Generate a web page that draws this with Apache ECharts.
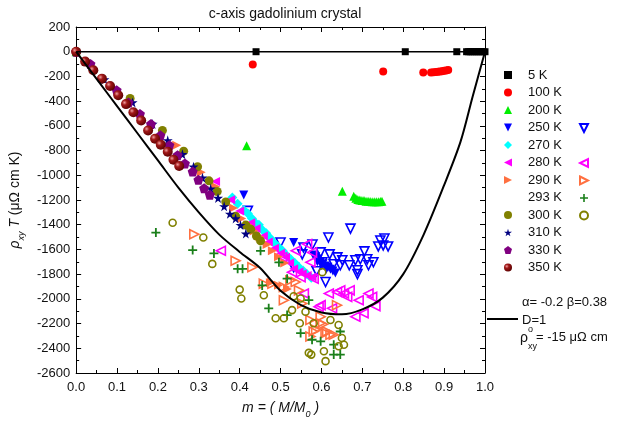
<!DOCTYPE html>
<html>
<head>
<meta charset="utf-8">
<script src="https://cdn.jsdelivr.net/npm/echarts@6/dist/echarts.min.js"></script>
<style>
  html, body { margin: 0; padding: 0; background: #fff; }
  #chart { width: 617px; height: 424px; }
</style>
</head>
<body>
<div id="chart"></div>
<script>
// ---- data: [m, rho_xy*T] ----
const xTicks = ['0.0', '0.1', '0.2', '0.3', '0.4', '0.5', '0.6', '0.7', '0.8', '0.9', '1.0']
const yTicks = [200, 0, -200, -400, -600, -800, -1000, -1200, -1400, -1600, -1800, -2000, -2200, -2400, -2600]

const k5 = [[0.44, 0], [0.805, 0], [0.931, 0], [0.955, 0], [0.96, 0], [0.965, 0], [0.97, 0], [0.975, 0], [0.98, 0], [0.985, 0], [0.99, 0], [0.995, 0], [1.0, 0]]
const k100 = [[0.432, -104], [0.751, -160], [0.849, -168], [0.868, -168], [0.874, -167], [0.88, -165], [0.885, -163], [0.89, -161], [0.895, -158], [0.9, -155], [0.905, -152], [0.91, -148]]
const k200 = [[0, 0], [0.417, -760], [0.651, -1130], [0.679, -1170], [0.684, -1185], [0.689, -1195], [0.694, -1200], [0.699, -1205], [0.704, -1205], [0.709, -1210], [0.714, -1210], [0.719, -1212], [0.724, -1215], [0.729, -1215], [0.734, -1215], [0.739, -1215], [0.744, -1212], [0.748, -1210]]
const k250 = [[0.41, -1160], [0.532, -1544], [0.58, -1645], [0.586, -1660], [0.592, -1680], [0.598, -1700], [0.604, -1715], [0.61, -1735], [0.616, -1745], [0.622, -1760], [0.628, -1775], [0.634, -1790], [0.6, -1730], [0.612, -1760], [0.59, -1700]]
const k250open = [[0.42, -1288], [0.5, -1544], [0.556, -1584], [0.553, -1640], [0.578, -1560], [0.617, -1504], [0.671, -1432], [0.62, -1640], [0.639, -1664], [0.651, -1688], [0.646, -1728], [0.668, -1728], [0.688, -1768], [0.688, -1800], [0.683, -1688], [0.695, -1680], [0.705, -1616], [0.712, -1680], [0.727, -1704], [0.715, -1728], [0.744, -1528], [0.754, -1512], [0.739, -1576], [0.751, -1568], [0.763, -1576], [0.61, -1864], [0.588, -1776], [0.602, -1704], [0.63, -1720], [0.598, -1624], [0.532, -1744]]
const k270 = [[0.382, -1180], [0.395, -1230], [0.41, -1280], [0.42, -1310], [0.43, -1350], [0.44, -1390], [0.447, -1400], [0.455, -1440], [0.465, -1470], [0.475, -1510], [0.484, -1545], [0.495, -1580], [0.505, -1610], [0.515, -1650], [0.525, -1680], [0.535, -1710], [0.545, -1745], [0.555, -1770], [0.565, -1800], [0.575, -1830]]
const k280 = [[0.341, -1051], [0.378, -1197], [0.4, -1290], [0.427, -1384], [0.44, -1430], [0.458, -1491], [0.47, -1540], [0.485, -1590], [0.5, -1630], [0.512, -1664], [0.522, -1710], [0.532, -1757], [0.545, -1780], [0.553, -1797], [0.565, -1810], [0.577, -1824]]
const k280open = [[0.354, -1611], [0.504, -1664], [0.528, -1784], [0.537, -1611], [0.565, -1557], [0.577, -1624], [0.573, -1704], [0.549, -1824], [0.557, -1957], [0.581, -1837], [0.593, -2064], [0.598, -2051], [0.618, -1957], [0.626, -2077], [0.638, -1944], [0.646, -1931], [0.655, -1957], [0.663, -1984], [0.669, -1931], [0.683, -2144], [0.691, -2011], [0.703, -2117], [0.715, -1957], [0.724, -1984], [0.732, -2059]]
const k290 = [[0.246, -757], [0.306, -976], [0.341, -1091], [0.385, -1264], [0.405, -1350], [0.42, -1400], [0.435, -1450], [0.45, -1500], [0.467, -1560], [0.48, -1610], [0.495, -1660], [0.51, -1710], [0.475, -1870], [0.495, -1890], [0.517, -1920]]
const k290open = [[0.289, -1477], [0.39, -1691], [0.431, -1744], [0.459, -1877], [0.48, -1877], [0.508, -1904], [0.508, -2011], [0.524, -1851], [0.537, -1864], [0.545, -1931], [0.553, -2037], [0.573, -2171], [0.573, -2304], [0.581, -2264], [0.587, -2250], [0.598, -2144], [0.598, -2197], [0.604, -2205], [0.61, -2277], [0.614, -2264], [0.622, -2291], [0.63, -2291], [0.638, -2051]]
const k293 = [[0.195, -1464], [0.285, -1605], [0.337, -1632], [0.395, -1757], [0.407, -1757], [0.451, -1611], [0.455, -1891], [0.471, -2077], [0.496, -1704], [0.516, -1837], [0.516, -2131], [0.549, -2277], [0.569, -2011], [0.577, -2331], [0.598, -2344], [0.63, -2371], [0.63, -2451], [0.646, -2451], [0.646, -2264]]
const k300 = [[0, 0], [0.132, -379], [0.211, -637], [0.263, -805], [0.297, -931], [0.325, -1045], [0.345, -1131], [0.366, -1216], [0.39, -1331], [0.415, -1403], [0.427, -1437], [0.441, -1491], [0.451, -1531]]
const k300open = [[0, 0], [0.236, -1384], [0.311, -1504], [0.333, -1717], [0.4, -1925], [0.404, -1997], [0.459, -1971], [0.488, -2157], [0.508, -2157], [0.528, -2091], [0.532, -1979], [0.547, -2197], [0.549, -1997], [0.561, -2104], [0.569, -2437], [0.575, -2451], [0.581, -2197], [0.602, -1784], [0.606, -2424], [0.61, -2504], [0.622, -2171], [0.642, -2211], [0.642, -2384], [0.65, -2317], [0.655, -2371]]
const k310 = [[0.069, -224], [0.138, -410], [0.187, -584], [0.224, -717], [0.26, -830], [0.287, -931], [0.309, -1020], [0.329, -1109], [0.347, -1184], [0.362, -1251], [0.376, -1312], [0.39, -1349], [0.402, -1403], [0.415, -1472]]
const k330 = [[0, 0], [0.035, -99], [0.099, -312], [0.128, -410], [0.156, -504], [0.183, -584], [0.206, -677], [0.228, -757], [0.248, -837], [0.266, -904], [0.285, -970], [0.299, -1037], [0.313, -1104], [0.327, -1157]]
const k350 = [[0, 0], [0.022, -80], [0.042, -150], [0.063, -218], [0.083, -277], [0.103, -352], [0.122, -424], [0.14, -490], [0.159, -557], [0.176, -637], [0.193, -704], [0.207, -752], [0.224, -810], [0.238, -875], [0.252, -925]]

// model curve (D=1)
const fitM = [0, 0.05, 0.1, 0.15, 0.2, 0.25, 0.3, 0.35, 0.4, 0.45, 0.5, 0.55, 0.6, 0.65, 0.7, 0.75, 0.8, 0.85, 0.9, 0.94, 0.97, 1.0]
const fitY = [0, -220, -440, -660, -880, -1100, -1300, -1480, -1620, -1750, -1935, -2050, -2110, -2125, -2085, -1990, -1800, -1480, -1080, -730, -360, 0]
const zeroLine = [[0, 0], [1, 0]]

const font = "'Liberation Sans', Arial, sans-serif"
// symbol shapes
const triUp = 'path://M50,0L100,100L0,100Z'
const triDown = 'path://M0,0L100,0L50,100Z'
const triLeft = 'path://M100,0L100,100L0,50Z'
const triRight = 'path://M0,0L100,50L0,100Z'
const star = 'path://M50,0L61,35L98,35L68,57L79,91L50,70L21,91L32,57L2,35L39,35Z'
const penta = 'path://M50,0L100,38L81,100L19,100L0,38Z'
const plus = 'path://M40,0H60V40H100V60H60V100H40V60H0V40H40Z'
const sphere = {
    type: 'radial', x: 0.35, y: 0.35, r: 0.7,
    colorStops: [{ offset: 0, color: '#f0a0a0' }, { offset: 0.35, color: '#a01818' }, { offset: 1, color: '#5a0000' }],
}

function filled(name, data, symbol, size, color) {
    return { name, type: 'scatter', data, symbol, symbolSize: size, itemStyle: { color, opacity: 1 } }
}
function hollow(name, data, symbol, size, color) {
    return {
        name, type: 'scatter', data, symbol, symbolSize: size,
        itemStyle: { color: 'rgba(255,255,255,0)', borderColor: color, borderWidth: 1.6, opacity: 1 },
    }
}

const chart = echarts.init(document.getElementById('chart'))

const axisCommon = {
    type: 'value',
    axisLine: { show: true, onZero: false, lineStyle: { color: '#000', width: 1 } },
    axisTick: { show: true, inside: true, length: 5, lineStyle: { color: '#000' } },
    minorTick: { show: true, splitNumber: 2, length: 3, lineStyle: { color: '#000' } },
    splitLine: { show: false },
    minorSplitLine: { show: false },
}
const legendCommon = {
    orient: 'vertical', itemWidth: 8, itemHeight: 8, itemGap: 3.5,
    selectedMode: false,
    textStyle: { fontSize: 13, color: '#111', lineHeight: 14, fontFamily: font, padding: [0, 0, 0, 11] },
}

chart.setOption({
    animation: false,
    backgroundColor: '#fff',
    textStyle: { fontFamily: font },
    title: {
        text: 'c-axis gadolinium crystal',
        left: 280,
        textAlign: 'center',
        top: 2,
        textStyle: { fontSize: 14, fontWeight: 'normal', color: '#111', fontFamily: font },
    },
    grid: { left: 75, right: 132, top: 27, bottom: 48 },
    xAxis: [
        {
            ...axisCommon,
            min: 0, max: 1, interval: 0.1, position: 'bottom',
            axisLabel: { color: '#111', fontSize: 13, margin: 8, formatter: v => xTicks[Math.round(v * 10)] },
            name: '{i|m = ( M/M}{s|0}{i| )}',
            nameLocation: 'middle',
            nameGap: 24,
            nameTextStyle: {
                rich: {
                    i: { fontSize: 14, fontStyle: 'italic', color: '#111', lineHeight: 18 },
                    s: { fontSize: 9, fontStyle: 'italic', color: '#111', verticalAlign: 'bottom', lineHeight: 22 },
                },
            },
        },
        { ...axisCommon, min: 0, max: 1, interval: 0.1, position: 'top', axisLabel: { show: false } },
    ],
    yAxis: [
        {
            ...axisCommon,
            min: -2600, max: 200, interval: 200, position: 'left',
            axisLabel: { color: '#111', fontSize: 13, margin: 6, formatter: v => String(yTicks.find(t => t === v)) },
            name: '{i|ρ}{s|xy}{n| }{i|T}{n| (μΩ cm K)}',
            nameLocation: 'middle',
            nameGap: 44,
            nameTextStyle: {
                rich: {
                    i: { fontSize: 14, fontStyle: 'italic', color: '#111', lineHeight: 18 },
                    n: { fontSize: 14, color: '#111', lineHeight: 18 },
                    s: { fontSize: 9, fontStyle: 'italic', color: '#111', verticalAlign: 'bottom', lineHeight: 22 },
                },
            },
        },
        { ...axisCommon, min: -2600, max: 200, interval: 200, position: 'right', axisLabel: { show: false } },
    ],
    legend: [
        {
            ...legendCommon, left: 499, top: 63,
            data: ['5 K', '100 K', '200 K', '250 K', '270 K', '280 K', '290 K',
                { name: '293 K', itemStyle: { opacity: 0 } }, '300 K', '310 K', '330 K', '350 K'],
        },
        { ...legendCommon, left: 574, top: 116, formatter: () => ' ', data: ['250 K open'] },
        { ...legendCommon, left: 574, top: 151, formatter: () => ' ', data: ['280 K open', '290 K open', '293 K', '300 K open'] },
    ],
    graphic: [
        { type: 'text', left: 522, top: 296, style: { text: 'α= -0.2 β=0.38', fill: '#111', font: '13px ' + font } },
        { type: 'line', shape: { x1: 487, y1: 319, x2: 518, y2: 319 }, style: { stroke: '#000', lineWidth: 2 } },
        { type: 'text', left: 522, top: 314, style: { text: 'D=1', fill: '#111', font: '13px ' + font } },
        { type: 'text', left: 520, top: 331, style: { text: 'ρ', fill: '#111', font: '14px ' + font } },
        { type: 'text', left: 528, top: 325, style: { text: 'o', fill: '#111', font: '9px ' + font } },
        { type: 'text', left: 528, top: 342, style: { text: 'xy', fill: '#111', font: '9px ' + font } },
        { type: 'text', left: 536, top: 331, style: { text: '= -15 μΩ cm', fill: '#111', font: '13px ' + font } },
    ],
    series: [
        {
            name: 'zero', type: 'line', data: zeroLine, showSymbol: false, silent: true,
            lineStyle: { color: '#000', width: 1.5 },
        },
        {
            name: 'D=1', type: 'line', data: fitM.map((m, i) => [m, fitY[i]]), showSymbol: false,
            smooth: 0.3, silent: true, z: 3,
            lineStyle: { color: '#000', width: 2 },
        },
        filled('5 K', k5, 'rect', 7, '#000'),
        filled('100 K', k100, 'circle', 8, '#ff0000'),
        filled('200 K', k200, triUp, 9, '#00ee00'),
        hollow('250 K open', k250open, triDown, 9, '#0000ff'),
        filled('250 K', k250, triDown, 9, '#0000ff'),
        filled('270 K', k270, 'diamond', 10, '#00ffff'),
        hollow('280 K open', k280open, triLeft, 9, '#ff00ff'),
        filled('280 K', k280, triLeft, 9, '#ff00ff'),
        hollow('290 K open', k290open, triRight, 9, '#ff7040'),
        filled('290 K', k290, triRight, 9, '#ff7040'),
        filled('293 K', k293, plus, 9, '#1a7f1a'),
        hollow('300 K open', k300open, 'circle', 7, '#808000'),
        filled('300 K', k300, 'circle', 9, '#808000'),
        filled('310 K', k310, star, 10, '#000080'),
        filled('330 K', k330, penta, 10, '#800080'),
        filled('350 K', k350, 'circle', 10, sphere),
    ],
})
</script>
</body>
</html>
